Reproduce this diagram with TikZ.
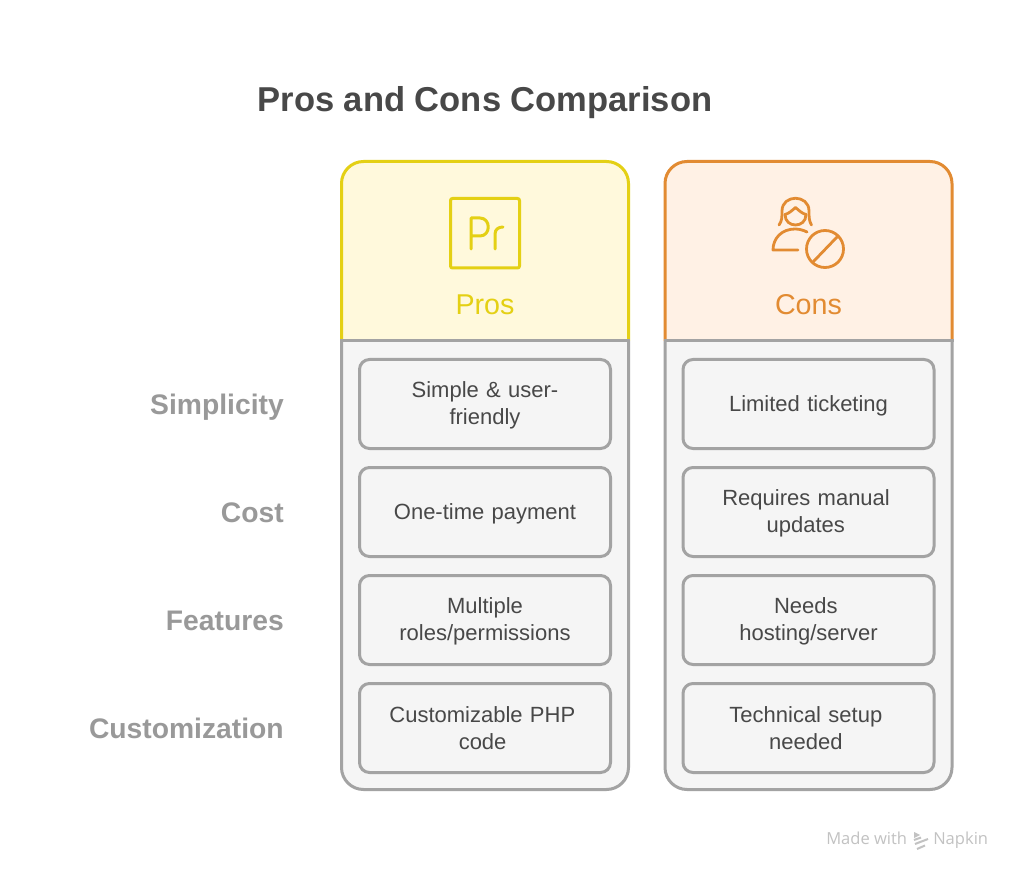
\documentclass[tikz,border=0pt]{standalone}
\usepackage{fontspec}
\setmainfont{Liberation Sans}
\newfontfamily\wmfont{Open Sans}
\definecolor{ink}{HTML}{484848}
\definecolor{lab}{HTML}{999999}
\definecolor{edge}{HTML}{A3A3A3}
\definecolor{cellfill}{HTML}{F5F5F5}
\definecolor{yel}{HTML}{E4D014}
\definecolor{yelfill}{HTML}{FFF9DC}
\definecolor{ora}{HTML}{E28B32}
\definecolor{orafill}{HTML}{FFF1E5}
\definecolor{wm}{HTML}{C2C2C2}
\newcommand{\fs}[2]{\fontsize{#1}{#2}\selectfont}
\newcommand{\cst}{\rule[-2pt]{0pt}{16pt}}
\tikzset{
  x=0.75pt,y=-0.75pt,
  px/.style={line width=2.25pt},
  cellbox/.style={draw=edge,fill=cellfill,px,rounded corners=7.5pt,minimum width=188.25pt,minimum height=66.75pt,inner sep=0pt,outer sep=0pt,text=ink,align=center,font=\fs{16.5}{20.25},text width=185pt},
  rowlabel/.style={anchor=base east,text=lab,inner sep=0pt,font=\fs{21.2}{24}\bfseries},
  headtext/.style={anchor=base,inner sep=0pt,font=\fs{21.5}{24}},
  iconline/.style={line width=2.25pt,line cap=round,line join=round},
  thinicon/.style={line width=2.1pt,line cap=round,line join=round},
}
\begin{document}
\begin{tikzpicture}
\useasboundingbox (0,0) rectangle (1024,880);
\fill[white] (0,0) rectangle (1024,880);
\node[anchor=base,inner sep=0pt,text=ink,font=\fs{25.9}{30}\bfseries] (title) at (485,112) {Pros and Cons Comparison};

% Pros panel
\draw[edge,fill=cellfill,px,rounded corners=16.5pt] (341.5,341) -- (341.5,789.5) -- (628.5,789.5) -- (628.5,341);
\draw[yel,fill=yelfill,px,rounded corners=16.5pt] (341.5,341) -- (341.5,161.5) -- (628.5,161.5) -- (628.5,341);
\draw[edge,px,line cap=rect] (341.5,341) -- (628.5,341);
% Cons panel
\draw[edge,fill=cellfill,px,rounded corners=16.5pt] (665,341) -- (665,789.5) -- (952,789.5) -- (952,341);
\draw[ora,fill=orafill,px,rounded corners=16.5pt] (665,341) -- (665,161.5) -- (952,161.5) -- (952,341);
\draw[edge,px,line cap=rect] (665,341) -- (952,341);

% Pr icon
\draw[yel,iconline,rounded corners=1.5pt] (450.5,198.5) rectangle (519.5,268);
\draw[yel,iconline] (471,249) -- (471,218) -- (480,218) .. controls (491,218) and (491,236) .. (480,236) -- (471,236);
\draw[yel,iconline] (495,249) -- (495,234) .. controls (495,229) and (499,227) .. (503,227);
\node[headtext,text=yel] (prosh) at (485,315) {Pros};

% Cons icon
\draw[ora,thinicon] (779,225) .. controls (782,221) and (782,217) .. (782,211) .. controls (782,194) and (809,194) .. (809,211) .. controls (809,217) and (809,221) .. (811.5,225);
\draw[ora,thinicon] (785,214.5) .. controls (789,213.5) and (792,210.5) .. (795.5,207.5) .. controls (799,210.5) and (802,213.5) .. (806,214.5);
\draw[ora,thinicon] (785,214.5) .. controls (785,228.5) and (806,228.5) .. (806,214.5);
\draw[ora,thinicon] (807,232) .. controls (803,230) and (799,229) .. (795,229) .. controls (782,229) and (773,238) .. (773,250) -- (798,250);
\draw[ora,thinicon] (825,249) circle[radius=18.5];
\draw[ora,thinicon] (813,262) -- (837,237);
\node[headtext,text=ora] (consh) at (808.5,315) {Cons};

% Pros cells
\node[cellbox] (p1) at (485,404) {\cst Simple \& user-\\\cst friendly};
\node[cellbox] (p2) at (485,512) {\cst One-time payment};
\node[cellbox] (p3) at (485,620) {\cst Multiple\\\cst roles/permissions};
\node[cellbox] (p4) at (485,728) {\hspace*{-4pt}\cst Customizable PHP\\\hspace*{-3.6pt}\cst code};
% Cons cells
\node[cellbox] (c1) at (808.5,404) {\cst Limited ticketing};
\node[cellbox] (c2) at (808.5,512) {\hspace*{-3.6pt}\cst Requires manual\\\hspace*{-4pt}\cst updates};
\node[cellbox] (c3) at (808.5,620) {\hspace*{-4pt}\cst Needs\\\cst hosting/server};
\node[cellbox] (c4) at (808.5,728) {\hspace*{-4pt}\cst Technical setup\\\hspace*{-4pt}\cst needed};

% Row labels
\node[rowlabel] (r1) at (284,414) {Simplicity};
\node[rowlabel] (r2) at (284,522) {Cost};
\node[rowlabel] (r3) at (284,630) {Features};
\node[rowlabel] (r4) at (284,738) {Customization};

% Watermark
\node[anchor=base west,inner sep=0pt,text=wm,font=\wmfont\fs{12.4}{14}] (wm1) at (826,844) {Made with};
\node[anchor=base west,inner sep=0pt,text=wm,font=\wmfont\fs{12.4}{14}] (wm2) at (933,844) {Napkin};
\fill[wm] (914,832) -- (920,835) -- (914,838) -- cycle;
\draw[wm,line width=1.5pt] (915,844) -- (928,839) (914,840) -- (921,837.5) (917,849) -- (925,845.5);
\end{tikzpicture}
\end{document}
